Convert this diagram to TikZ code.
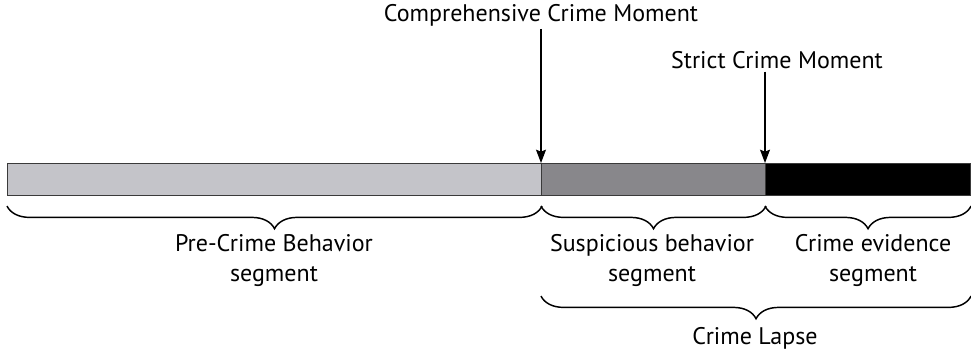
\documentclass[tikz,border=0pt]{standalone}
\usepackage{fontspec}
\setmainfont{PT Sans}
\usepackage{xcolor}
\usepackage{tikz}
\usetikzlibrary{arrows.meta, positioning, decorations.pathreplacing}

\definecolor{prefill}{HTML}{C4C4C9}
\definecolor{suspfill}{HTML}{88878B}
\definecolor{barline}{HTML}{3A3A3A}

\begin{document}
\begin{tikzpicture}[x=0.75pt, y=-0.75pt,
    segment/.style={rectangle, draw=barline, line width=0.8pt, minimum height=24pt, inner sep=0pt, anchor=north west},
    moment/.style={font=\fontsize{18}{21}\selectfont, inner sep=2pt},
    seglabel/.style={align=center, font=\fontsize{18}{22.5}\selectfont},
    arrow/.style={-{Stealth[length=10pt, width=7.5pt, inset=1.5pt]}, line width=0.9pt},
    brace/.style={decorate, decoration={brace, mirror, amplitude=17pt}, line width=1.1pt}
]
\useasboundingbox (0,0) rectangle (971,352);

% Bar segments
\node[segment, fill=prefill, minimum width=400.5pt] (pre) at (7,163) {};
\node[segment, fill=suspfill, minimum width=168pt] (susp) at (541,163) {};
\node[segment, fill=black, minimum width=153.75pt] (evid) at (765,163) {};

% Moments
\node[moment] (compmom) at (541,15) {Comprehensive Crime Moment};
\node[moment] (strictmom) at (777,60) {Strict Crime Moment};

\draw[arrow] (compmom.south -| susp.north west) -- (susp.north west);
\draw[arrow] (strictmom.south -| evid.north west) -- (evid.north west);

% Braces
\draw[brace] ([yshift=-7.5pt]pre.south west) -- ([yshift=-7.5pt]pre.south east);
\draw[brace] ([yshift=-7.5pt]susp.south west) -- ([yshift=-7.5pt]susp.south east);
\draw[brace] ([yshift=-7.5pt]evid.south west) -- ([yshift=-7.5pt]evid.south east);
\draw[brace] ([yshift=-75pt]susp.south west) -- ([yshift=-75pt]evid.south east);

% Labels
\node[seglabel] (prelbl) at (274,261) {Pre-Crime Behavior\\segment};
\node[seglabel] (susplbl) at (652,261) {Suspicious behavior\\segment};
\node[seglabel] (evidlbl) at (873,261) {Crime evidence\\segment};
\node[seglabel] (lapselbl) at (755,338) {Crime Lapse};

\end{tikzpicture}
\end{document}
